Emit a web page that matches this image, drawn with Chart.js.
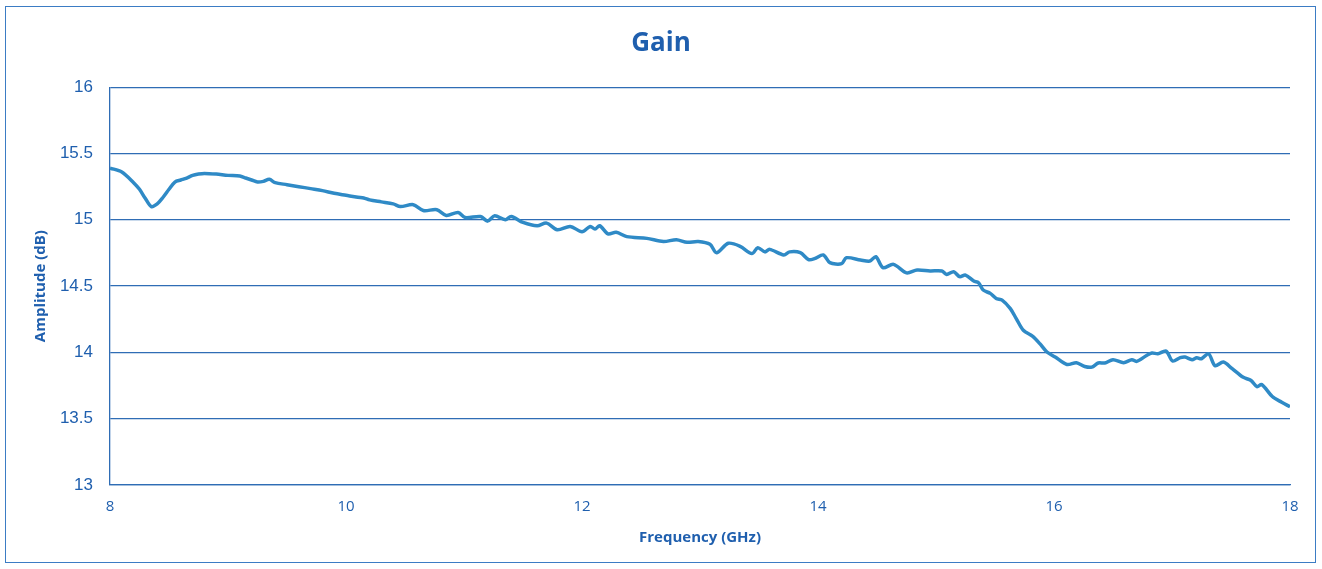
<!DOCTYPE html>
<html>
<head>
<meta charset="utf-8">
<script src="https://cdn.jsdelivr.net/npm/chart.js@4/dist/chart.umd.min.js"></script>
<style>
  html, body { margin: 0; padding: 0; background: #fff; }
  #wrap { position: relative; width: 1322px; height: 569px; }
  #frame { position: absolute; left: 5px; top: 6px; width: 1309px; height: 555px;
           border: 1px solid #3b7cc4; pointer-events: none; }
  canvas { position: absolute; left: 0; top: 0; }
</style>
</head>
<body>
<div id="wrap">
  <canvas id="gain-chart" width="1322" height="569"></canvas>
  <div id="frame"></div>
</div>
<script>
// ---- data ----
const FREQ_GHZ = [
  8.00, 8.10, 8.20, 8.25, 8.30, 8.35, 8.40, 8.45, 8.50, 8.55, 8.60, 8.65, 8.70, 8.75,
  8.80, 8.90, 9.00, 9.10, 9.15, 9.20, 9.25, 9.30, 9.35, 9.40, 9.50, 9.60, 9.70, 9.80,
  9.90, 10.00, 10.10, 10.15, 10.20, 10.30, 10.40, 10.46, 10.57, 10.655, 10.77, 10.85,
  10.95, 11.01, 11.14, 11.20, 11.26, 11.35, 11.40, 11.50, 11.62, 11.70, 11.79, 11.90,
  12.00, 12.07, 12.11, 12.15, 12.22, 12.29, 12.38, 12.55, 12.69, 12.80, 12.89, 12.985,
  13.085, 13.14, 13.24, 13.34, 13.44, 13.49, 13.55, 13.59, 13.71, 13.76, 13.85, 13.92,
  13.97, 14.045, 14.10, 14.20, 14.24, 14.36, 14.44, 14.49, 14.55, 14.64, 14.75, 14.84,
  14.95, 15.05, 15.09, 15.15, 15.20, 15.25, 15.32, 15.36, 15.40, 15.46, 15.51, 15.56,
  15.63, 15.68, 15.74, 15.82, 15.88, 15.94, 16.01, 16.11, 16.19, 16.26, 16.32, 16.375,
  16.43, 16.50, 16.59, 16.66, 16.70, 16.785, 16.83, 16.88, 16.95, 17.005, 17.07, 17.11,
  17.17, 17.21, 17.25, 17.31, 17.365, 17.435, 17.51, 17.60, 17.67, 17.72, 17.76, 17.85,
  17.93, 18.00
];
const GAIN_DB = [
  15.39, 15.36, 15.28, 15.23, 15.16, 15.10, 15.12, 15.17, 15.23, 15.285, 15.30, 15.315, 15.335, 15.345,
  15.35, 15.345, 15.335, 15.33, 15.315, 15.30, 15.285, 15.29, 15.305, 15.28, 15.265, 15.25, 15.235, 15.22,
  15.20, 15.185, 15.17, 15.165, 15.15, 15.135, 15.12, 15.10, 15.114, 15.07, 15.076, 15.033,
  15.055, 15.017, 15.025, 14.99, 15.03, 15.00, 15.025, 14.98, 14.955, 14.975, 14.925, 14.95,
  14.91, 14.95, 14.93, 14.955, 14.894, 14.906, 14.873, 14.86, 14.836, 14.85, 14.83, 14.836,
  14.815, 14.752, 14.823, 14.80, 14.745, 14.79, 14.758, 14.777, 14.735, 14.758, 14.752, 14.70,
  14.707, 14.735, 14.677, 14.669, 14.714, 14.697, 14.689, 14.722, 14.639, 14.664, 14.60, 14.621,
  14.614, 14.614, 14.588, 14.608, 14.571, 14.583, 14.538, 14.526, 14.47, 14.445, 14.407, 14.394,
  14.33, 14.255, 14.167, 14.121, 14.066, 14.003, 13.965, 13.909, 13.922, 13.894, 13.889, 13.92,
  13.92, 13.945, 13.922, 13.945, 13.932, 13.977, 13.995, 13.99, 14.01, 13.935, 13.96, 13.965,
  13.945, 13.96, 13.952, 13.99, 13.90, 13.927, 13.877, 13.814, 13.788, 13.742, 13.758, 13.667,
  13.624, 13.59
];
const X_TICKS = [8, 10, 12, 14, 16, 18];
const Y_TICKS = [13, 13.5, 14, 14.5, 15, 15.5, 16];

const TEXT_BLUE = '#1f5fae';
const GRID_BLUE = '#2f6db5';

const points = FREQ_GHZ.map((f, i) => ({ x: f, y: GAIN_DB[i] }));

new Chart(document.getElementById('gain-chart').getContext('2d'), {
  type: 'line',
  data: {
    datasets: [{
      label: 'Gain',
      data: points,
      borderColor: '#2f8ac6',
      borderWidth: 3.5,
      pointRadius: 0,
      tension: 0.3,
      fill: false
    }]
  },
  options: {
    responsive: false,
    animation: false,
    layout: { padding: 0 },
    plugins: {
      legend: { display: false },
      tooltip: { enabled: false },
      title: {
        display: true,
        text: 'Gain',
        color: TEXT_BLUE,
        font: { family: 'Open Sans', size: 26, weight: 'bold' },
        padding: { top: 28, bottom: 28 }
      }
    },
    scales: {
      x: {
        type: 'linear',
        min: 8, max: 18,
        afterBuildTicks: s => { s.ticks = X_TICKS.map(v => ({ value: v })); },
        afterFit: s => { s.height = 84; },
        grid: { display: false, drawTicks: false },
        border: { display: true, color: GRID_BLUE, width: 1.3 },
        ticks: { color: TEXT_BLUE, padding: 13, maxRotation: 0,
                 font: { family: 'Open Sans', size: 15 } },
        title: {
          display: true,
          text: 'Frequency (GHz)',
          color: TEXT_BLUE,
          font: { family: 'Open Sans', size: 15, weight: 'bold' },
          padding: { top: 0, bottom: 22 }
        }
      },
      y: {
        min: 13, max: 16,
        afterBuildTicks: s => { s.ticks = Y_TICKS.map(v => ({ value: v })); },
        afterFit: s => { s.width = 110; },
        grid: { color: GRID_BLUE, lineWidth: 1.3, drawTicks: false },
        border: { display: true, color: GRID_BLUE, width: 1.3 },
        ticks: { color: TEXT_BLUE, padding: 17, callback: v => String(v),
                 font: { family: 'Liberation Sans', size: 17 } },
        title: {
          display: true,
          text: 'Amplitude (dB)',
          color: TEXT_BLUE,
          font: { family: 'Open Sans', size: 15, weight: 'bold' },
          padding: { top: 32, bottom: 0 }
        }
      },
      // empty spacer on the right so the title centres over the full width
      yRight: {
        position: 'right',
        min: 13, max: 16,
        afterFit: s => { s.width = 32; },
        grid: { display: false, drawTicks: false },
        border: { display: false },
        ticks: { display: false }
      }
    }
  }
});
</script>
</body>
</html>
